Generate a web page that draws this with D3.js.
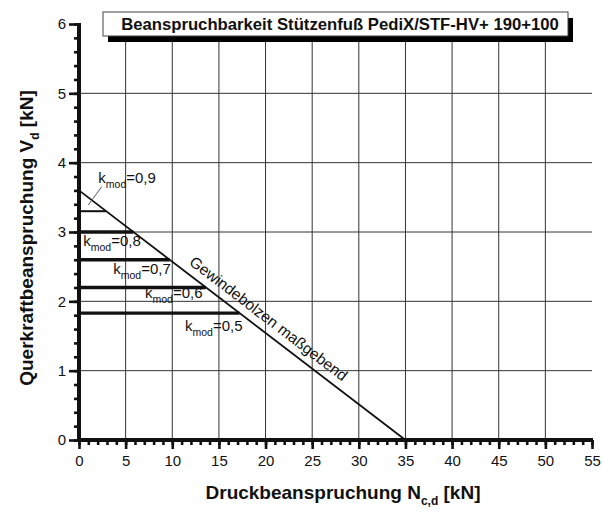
<!DOCTYPE html>
<html>
<head>
<meta charset="utf-8">
<script src="https://cdn.jsdelivr.net/npm/d3@7"></script>
<style>
  html, body { margin: 0; padding: 0; background: #fff; }
  svg { display: block; font-family: "Liberation Sans", Arial, Helvetica, sans-serif; }
</style>
</head>
<body>
<svg id="chart" width="603" height="512"></svg>
<script>
// Axis ranges and tick labels
const xTickLabels = [0, 5, 10, 15, 20, 25, 30, 35, 40, 45, 50, 55];
const yTickLabels = [0, 1, 2, 3, 4, 5, 6];

// Thread bolt governing line (N in kN, V in kN)
const boltN = [0, 35];
const boltV = [3.6, 0];

// Load-duration levels and their shear limits
const kmodLabels = ["0,9", "0,8", "0,7", "0,6", "0,5"];
const kmodShear = [3.3, 3.0, 2.6, 2.2, 1.83];
const kmodEndN = [2.92, 5.83, 9.72, 13.6, 17.2];

const titleText = "Beanspruchbarkeit Stützenfuß PediX/STF-HV+ 190+100";

const svg = d3.select("#chart");
const x = d3.scaleLinear().domain([0, 55]).range([79, 592]);
const y = d3.scaleLinear().domain([0, 6]).range([440, 24]);
const ink = "#111";

// Grid
const grid = svg.append("g");
grid.selectAll("line.v").data(xTickLabels.filter(d => d > 0 && d < 55)).join("line")
  .attr("x1", d => x(d)).attr("x2", d => x(d))
  .attr("y1", y(0)).attr("y2", y(6))
  .attr("stroke", "#333").attr("stroke-width", 1);
grid.selectAll("line.h").data(yTickLabels.filter(d => d > 0 && d < 6)).join("line")
  .attr("x1", x(0)).attr("x2", x(55))
  .attr("y1", d => y(d)).attr("y2", d => y(d))
  .attr("stroke", "#333").attr("stroke-width", 1);

// Horizontal k_mod limits
svg.append("g").selectAll("line").data(kmodShear).join("line")
  .attr("x1", x(0)).attr("x2", (d, i) => x(kmodEndN[i]))
  .attr("y1", d => y(d)).attr("y2", d => y(d))
  .attr("stroke", ink).attr("stroke-width", (d, i) => i === 0 ? 2 : 3.4);

// Bolt line
svg.append("path")
  .datum(boltN.map((n, i) => [n, boltV[i]]))
  .attr("d", d3.line().x(d => x(d[0])).y(d => y(d[1])))
  .attr("fill", "none").attr("stroke", ink).attr("stroke-width", 1.8);

// Axes
const xAxisMinor = d3.axisBottom(x).tickValues(d3.range(0, 56, 1)).tickSize(5).tickFormat("");
const xAxisMajor = d3.axisBottom(x).tickValues(xTickLabels).tickSize(9).tickPadding(6).tickFormat(d3.format("d"));
const yAxisMinor = d3.axisLeft(y).tickValues(d3.range(0, 30.5, 1).map(v => v / 5)).tickSize(5).tickFormat("");
const yAxisMajor = d3.axisLeft(y).tickValues(yTickLabels).tickSize(10).tickPadding(3).tickFormat(d3.format("d"));

function styleAxis(g) {
  g.select(".domain").remove();
  g.selectAll(".tick line").attr("stroke", ink).attr("stroke-width", 2.6);
  g.selectAll(".tick text").attr("fill", ink).attr("font-size", 15)
    .attr("font-family", "Liberation Sans, Arial, sans-serif");
}
svg.append("g").attr("transform", `translate(0,${y(0)})`).call(xAxisMinor).call(styleAxis);
svg.append("g").attr("transform", `translate(0,${y(0)})`).call(xAxisMajor).call(styleAxis);
svg.append("g").attr("transform", `translate(${x(0)},0)`).call(yAxisMinor).call(styleAxis);
svg.append("g").attr("transform", `translate(${x(0)},0)`).call(yAxisMajor).call(styleAxis);

// Thick axis lines
svg.append("line").attr("x1", x(0) - 2).attr("x2", x(55) + 1).attr("y1", y(0)).attr("y2", y(0))
  .attr("stroke", ink).attr("stroke-width", 4);
svg.append("line").attr("x1", x(0)).attr("x2", x(0)).attr("y1", y(0) + 2).attr("y2", y(6) - 1)
  .attr("stroke", ink).attr("stroke-width", 4);

// Title box with drop shadow
svg.append("rect").attr("x", 108).attr("y", 18).attr("width", 465).attr("height", 24).attr("fill", "#000");
svg.append("rect").attr("x", 103).attr("y", 12).attr("width", 465).attr("height", 24)
  .attr("fill", "#fff").attr("stroke", "#444").attr("stroke-width", 1);
svg.append("text").attr("x", 340).attr("y", 29.5).attr("text-anchor", "middle")
  .attr("font-size", 16.7).attr("font-weight", "bold").attr("fill", ink).text(titleText);

// k_mod labels
const kLabelPos = [[2.07, 3.70], [0.46, 2.80], [3.67, 2.39], [7.07, 2.05], [11.36, 1.57]];
const kl = svg.append("g").attr("fill", ink).attr("font-size", 15);
kmodLabels.forEach((lab, i) => {
  const t = kl.append("text").attr("x", x(kLabelPos[i][0])).attr("y", y(kLabelPos[i][1]));
  t.append("tspan").text("k");
  t.append("tspan").attr("font-size", 10.5).attr("dy", 5).text("mod");
  t.append("tspan").attr("dy", -5).text("=" + lab);
});
// leader from the 0,9 label to its line
svg.append("line").attr("x1", 101.7).attr("y1", 186.7).attr("x2", 88.3).attr("y2", 205)
  .attr("stroke", "#555").attr("stroke-width", 1);

// Bolt line label along the line
{
  const p0 = [x(boltN[0]), y(boltV[0])], p1 = [x(boltN[1]), y(boltV[1])];
  const ang = Math.atan2(p1[1] - p0[1], p1[0] - p0[0]);
  const s = 11.2 / 35;
  const bx = p0[0] + (p1[0] - p0[0]) * s + 8 * Math.sin(ang);
  const by = p0[1] + (p1[1] - p0[1]) * s - 8 * Math.cos(ang);
  svg.append("text")
    .attr("transform", `translate(${bx},${by}) rotate(${ang * 180 / Math.PI})`)
    .attr("font-size", 15.5).attr("fill", ink).text("Gewindebolzen maßgebend");
}

// Axis titles
const xt = svg.append("text").attr("x", 343).attr("y", 499).attr("text-anchor", "middle")
  .attr("font-size", 19).attr("font-weight", "bold").attr("fill", ink);
xt.append("tspan").text("Druckbeanspruchung N");
xt.append("tspan").attr("font-size", 12).attr("dy", 6).text("c,d");
xt.append("tspan").attr("dy", -6).text(" [kN]");

const yt = svg.append("text").attr("transform", "translate(33,238) rotate(-90)").attr("text-anchor", "middle")
  .attr("font-size", 19).attr("font-weight", "bold").attr("fill", ink);
yt.append("tspan").text("Querkraftbeanspruchung V");
yt.append("tspan").attr("font-size", 12).attr("dy", 6).text("d");
yt.append("tspan").attr("dy", -6).text(" [kN]");
</script>
</body>
</html>
